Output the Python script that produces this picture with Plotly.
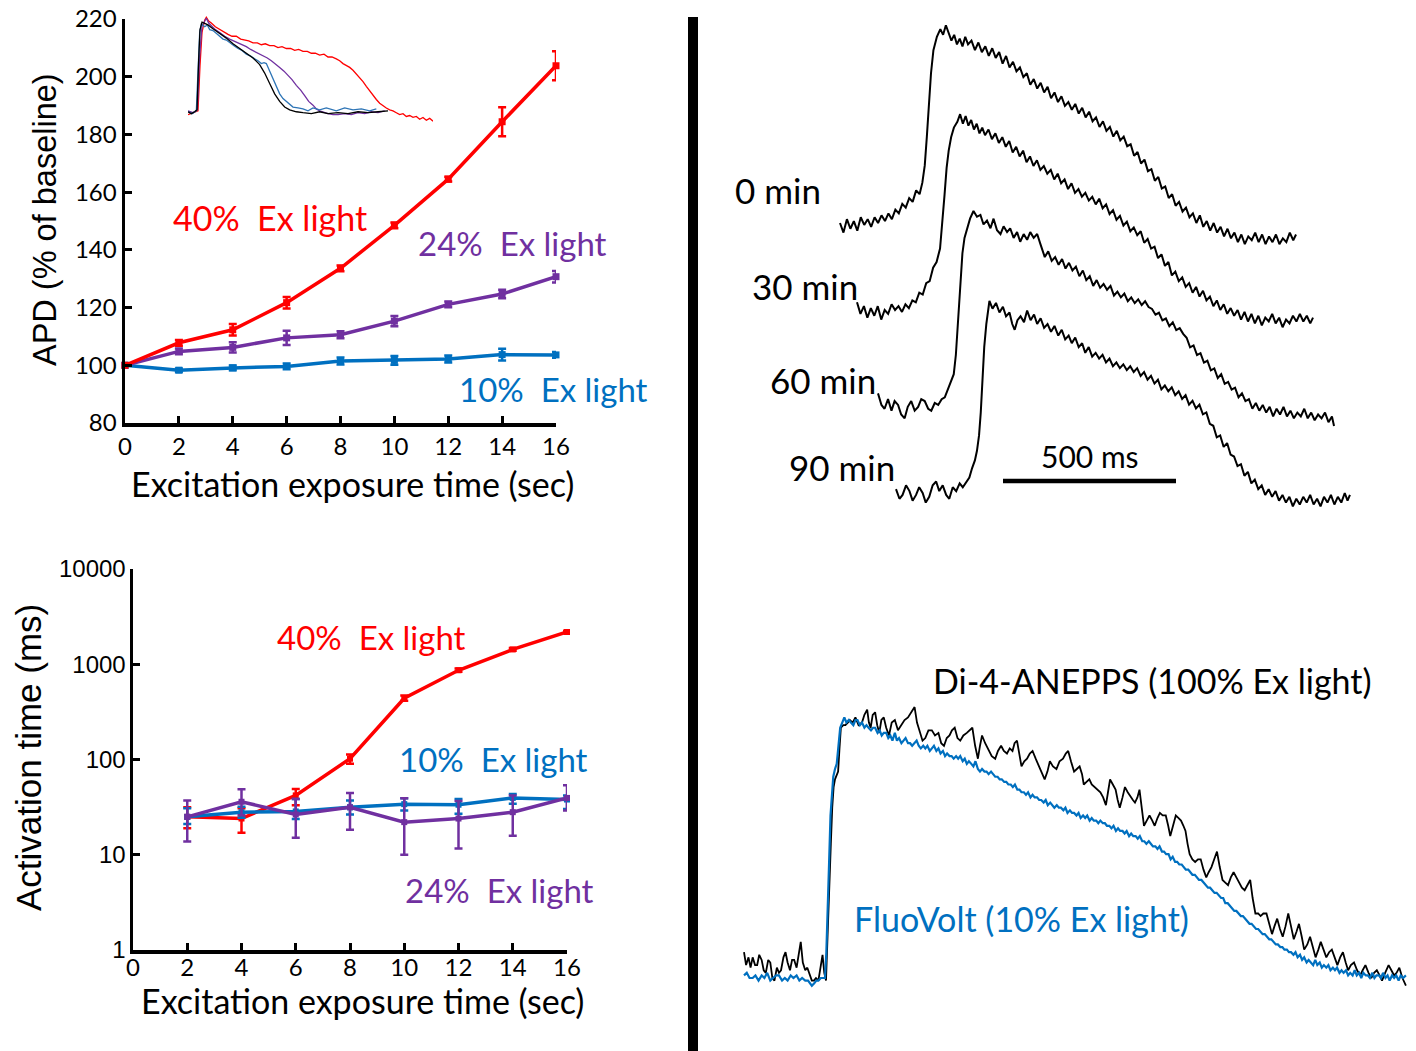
import plotly.graph_objects as go

W, H = 1416, 1051
def fx(px): return px / W
def fy(py): return 1 - py / H

FONT_C = "Lato"
FONT_A = "Liberation Sans"
RED = "#FF0000"
PURPLE = "#7030A0"
BLUE = "#0070C0"
BLACK = "#000000"

# ---------------- APD panel data ----------------
exposure_apd = [0, 2, 4, 6, 8, 10, 12, 14, 16]
apd_40 = [100, 107.8, 112.3, 121.7, 133.6, 148.5, 164.5, 184.4, 203.8]
apd_40_err = [0, 1.0, 2.0, 2.0, 1.0, 1.0, 0.8, 5.0, 5.0]
apd_24 = [100, 104.8, 106.2, 109.5, 110.6, 115.3, 121.1, 124.7, 130.7]
apd_24_err = [0, 1.0, 1.8, 2.5, 1.2, 1.8, 1.0, 1.5, 2.0]
apd_10 = [100, 98.3, 99.1, 99.6, 101.5, 101.7, 102.2, 103.7, 103.6]
apd_10_err = [0, 0.6, 0.8, 1.0, 1.2, 1.5, 1.2, 2.0, 1.0]
apd_yticks = [80, 100, 120, 140, 160, 180, 200, 220]
x_ticks = [0, 2, 4, 6, 8, 10, 12, 14, 16]

# ---------------- Activation time panel data ----------------
exposure_act = [2, 4, 6, 8, 10, 12, 14, 16]
act_40 = [25, 24, 42, 102, 440, 865, 1430, 2180]
act_40_hi = [31.5, 30.8, 49, 113, 470, 900, 1480, 2250]
act_40_lo = [19, 17, 33, 90, 415, 835, 1390, 2120]
act_10 = [25, 28, 28.5, 31.5, 34, 33.5, 39.5, 38]
act_10_hi = [30.8, 32, 38.4, 37.2, 39.3, 38.4, 43.5, 42]
act_10_lo = [21, 24.5, 23.7, 26.4, 29.1, 27, 34.4, 30.3]
act_24 = [25, 36, 26.5, 31.5, 22, 24, 28, 39.5]
act_24_hi = [37.2, 48.7, 38.4, 44.4, 39.3, 36.6, 41.9, 53.8]
act_24_lo = [13.8, 26, 15.1, 18.3, 10, 11.6, 15.8, 29.1]
act_yticks = [1, 10, 100, 1000, 10000]

# ---------------- Inset action potentials (time, normalized amplitude) ----------------
inset_red = [(0,-0.02),(15,0.00),(30,0.02),(36,0.50),(42,0.85),(50,0.98),(55,1.01),(62,0.97),(70,0.95),(82,0.91),(95,0.88),(108,0.85),(120,0.83),(132,0.81),(145,0.81),(158,0.78),(170,0.77),(182,0.76),(195,0.74),(208,0.74),(220,0.72),(232,0.73),(245,0.71),(258,0.71),(270,0.69),(282,0.70),(295,0.68),(308,0.68),(320,0.66),(332,0.67),(345,0.65),(358,0.65),(370,0.63),(382,0.63),(395,0.61),(408,0.62),(420,0.59),(432,0.59),(445,0.57),(455,0.55),(465,0.52),(475,0.50),(485,0.48),(495,0.45),(505,0.41),(515,0.38),(525,0.33),(535,0.28),(545,0.23),(555,0.19),(565,0.14),(575,0.10),(585,0.07),(595,0.05),(605,0.03),(615,0.02),(625,0.00),(635,-0.02),(645,-0.01),(655,-0.04),(665,-0.03),(675,-0.05),(685,-0.04),(695,-0.07),(705,-0.05),(715,-0.08),(725,-0.06),(735,-0.09)]
inset_purple = [(0,0.02),(15,0.00),(28,0.03),(35,0.60),(42,0.92),(55,1.00),(62,0.95),(70,0.92),(82,0.88),(95,0.85),(110,0.81),(125,0.78),(138,0.76),(150,0.74),(162,0.72),(175,0.70),(188,0.67),(200,0.65),(212,0.63),(225,0.60),(238,0.58),(250,0.55),(262,0.52),(275,0.48),(288,0.44),(300,0.40),(312,0.35),(325,0.29),(338,0.24),(350,0.18),(362,0.12),(375,0.08),(385,0.04),(395,0.02),(408,0.00),(420,-0.01),(435,-0.02),(450,-0.02),(470,-0.01),(490,-0.02),(510,0.00),(530,-0.01),(550,0.01),(570,0.00),(590,0.02)]
inset_blue = [(0,0.01),(12,-0.01),(25,0.02),(30,0.45),(35,0.85),(40,0.94),(50,0.91),(58,0.93),(65,0.88),(75,0.87),(85,0.84),(95,0.82),(105,0.78),(115,0.77),(125,0.74),(138,0.71),(150,0.68),(162,0.66),(175,0.62),(188,0.60),(200,0.57),(210,0.55),(220,0.52),(228,0.53),(235,0.52),(245,0.44),(255,0.35),(265,0.27),(275,0.20),(285,0.15),(295,0.12),(305,0.08),(315,0.06),(330,0.05),(345,0.04),(360,0.02),(375,0.05),(395,0.03),(415,0.05),(445,0.02),(470,0.05),(495,0.03),(520,0.04),(545,0.02),(565,0.04)]
inset_black = [(0,0.01),(10,-0.01),(20,0.01),(27,0.03),(32,0.56),(36,0.88),(42,0.96),(50,0.95),(60,0.93),(75,0.89),(95,0.84),(115,0.79),(135,0.73),(155,0.68),(175,0.63),(195,0.58),(215,0.51),(230,0.42),(245,0.31),(260,0.20),(275,0.12),(290,0.06),(305,0.03),(325,0.01),(345,0.00),(370,-0.01),(395,0.01),(420,-0.01),(450,0.00),(480,-0.01),(510,0.01),(540,0.00),(570,0.01),(600,0.02)]

# ---------------- Right-top: APs over time (ms from trace start, normalized amplitude) ----------------
ap_0min = [(0,0.00),(10,-0.05),(20,0.02),(30,-0.03),(40,0.01),(50,-0.04),(60,0.03),(70,-0.01),(80,0.02),(90,-0.02),(100,0.03),(110,0.00),(120,0.04),(130,0.01),(140,0.05),(150,0.02),(160,0.07),(170,0.05),(180,0.10),(190,0.08),(200,0.13),(210,0.11),(220,0.17),(230,0.15),(238,0.21),(245,0.30),(251,0.45),(257,0.62),(263,0.78),(270,0.90),(280,0.97),(290,1.01),(298,0.98),(306,1.03),(314,0.99),(322,0.95),(330,0.98),(338,0.93),(346,0.96),(354,0.92),(362,0.97),(370,0.93),(380,0.95),(390,0.90),(400,0.94),(410,0.89),(420,0.92),(430,0.87),(440,0.91),(450,0.86),(460,0.89),(470,0.83),(480,0.87),(490,0.81),(500,0.84),(510,0.79),(520,0.81),(530,0.76),(540,0.78),(550,0.72),(560,0.75),(570,0.70),(580,0.73),(590,0.68),(600,0.71),(610,0.65),(620,0.68),(630,0.63),(640,0.66),(650,0.61),(660,0.63),(670,0.59),(680,0.62),(690,0.57),(700,0.60),(710,0.55),(720,0.58),(730,0.53),(740,0.55),(750,0.50),(760,0.53),(770,0.48),(780,0.50),(790,0.45),(800,0.48),(810,0.43),(820,0.45),(830,0.40),(840,0.41),(850,0.35),(860,0.37),(870,0.31),(880,0.33),(890,0.27),(900,0.28),(910,0.22),(920,0.24),(930,0.18),(940,0.19),(950,0.13),(960,0.15),(970,0.09),(980,0.11),(990,0.06),(1000,0.08),(1010,0.03),(1020,0.05),(1030,0.00),(1040,0.04),(1050,-0.02),(1060,0.01),(1070,-0.04),(1080,0.00),(1090,-0.05),(1100,-0.02),(1110,-0.07),(1120,-0.03),(1130,-0.08),(1140,-0.05),(1150,-0.10),(1160,-0.06),(1170,-0.11),(1180,-0.07),(1190,-0.09),(1200,-0.05),(1210,-0.10),(1220,-0.06),(1230,-0.11),(1240,-0.07),(1250,-0.10),(1260,-0.06),(1270,-0.11),(1280,-0.08),(1290,-0.10),(1300,-0.05),(1310,-0.09),(1318,-0.06)]
ap_30min = [(0,0.04),(10,-0.02),(20,0.02),(30,-0.04),(40,0.01),(50,-0.03),(60,0.02),(70,-0.05),(80,0.00),(90,-0.02),(100,0.03),(110,0.00),(120,0.02),(130,-0.01),(140,0.03),(150,0.01),(160,0.05),(170,0.04),(180,0.09),(190,0.08),(200,0.14),(210,0.15),(220,0.22),(230,0.25),(240,0.32),(247,0.45),(253,0.60),(259,0.74),(265,0.83),(272,0.90),(280,0.95),(290,0.98),(298,1.02),(306,0.97),(314,1.01),(322,0.96),(330,0.99),(338,0.94),(346,0.97),(354,0.92),(362,0.95),(370,0.91),(380,0.94),(390,0.89),(400,0.92),(410,0.87),(420,0.90),(430,0.85),(440,0.88),(450,0.82),(460,0.85),(470,0.80),(480,0.83),(490,0.77),(500,0.80),(510,0.75),(520,0.78),(530,0.73),(540,0.75),(550,0.71),(560,0.73),(570,0.68),(580,0.71),(590,0.66),(600,0.68),(610,0.63),(620,0.66),(630,0.61),(640,0.63),(650,0.59),(660,0.61),(670,0.57),(680,0.59),(690,0.55),(700,0.58),(710,0.53),(720,0.55),(730,0.50),(740,0.52),(750,0.47),(760,0.49),(770,0.44),(780,0.46),(790,0.41),(800,0.43),(810,0.39),(820,0.41),(830,0.35),(840,0.37),(850,0.32),(860,0.33),(870,0.27),(880,0.29),(890,0.23),(900,0.25),(910,0.18),(920,0.20),(930,0.15),(940,0.17),(950,0.12),(960,0.14),(970,0.09),(980,0.12),(990,0.07),(1000,0.10),(1010,0.05),(1020,0.07),(1030,0.02),(1040,0.05),(1050,0.00),(1060,0.03),(1070,-0.02),(1080,0.01),(1090,-0.03),(1100,0.00),(1110,-0.05),(1120,-0.01),(1130,-0.06),(1140,-0.02),(1150,-0.07),(1160,-0.03),(1170,-0.08),(1180,-0.04),(1190,-0.06),(1200,-0.02),(1210,-0.07),(1220,-0.04),(1230,-0.09),(1240,-0.05),(1250,-0.07),(1260,-0.03),(1270,-0.06),(1280,-0.02),(1290,-0.06),(1300,-0.03),(1310,-0.07),(1318,-0.04)]
ap_60min = [(0,0.05),(10,-0.01),(19,-0.03),(29,0.02),(39,-0.04),(48,0.01),(58,-0.01),(67,-0.06),(77,-0.08),(86,-0.02),(96,0.01),(106,-0.04),(116,-0.02),(125,0.02),(135,0.01),(145,-0.03),(154,-0.04),(164,0.00),(174,-0.01),(184,0.02),(193,0.03),(200,0.06),(206,0.09),(213,0.12),(219,0.15),(225,0.25),(231,0.43),(238,0.60),(244,0.78),(250,0.86),(257,0.91),(266,0.96),(276,1.00),(286,0.97),(296,0.98),(305,0.93),(315,0.95),(325,0.91),(334,0.96),(344,0.90),(354,0.88),(363,0.92),(373,0.89),(382,0.91),(392,0.86),(402,0.89),(411,0.84),(421,0.88),(431,0.85),(440,0.89),(450,0.86),(460,0.88),(469,0.83),(476,0.79),(482,0.76),(492,0.79),(502,0.74),(512,0.76),(522,0.72),(532,0.75),(542,0.70),(552,0.73),(562,0.69),(572,0.71),(582,0.66),(592,0.69),(602,0.64),(612,0.66),(622,0.61),(632,0.64),(642,0.60),(652,0.62),(662,0.59),(672,0.61),(682,0.56),(692,0.58),(702,0.55),(712,0.57),(722,0.53),(732,0.55),(742,0.52),(752,0.54),(762,0.51),(772,0.53),(782,0.50),(792,0.49),(802,0.46),(812,0.47),(822,0.43),(832,0.44),(842,0.40),(852,0.42),(862,0.38),(872,0.39),(882,0.36),(892,0.34),(902,0.29),(912,0.30),(922,0.25),(932,0.26),(942,0.21),(952,0.22),(962,0.17),(972,0.18),(982,0.13),(992,0.15),(1002,0.10),(1012,0.11),(1022,0.07),(1032,0.08),(1042,0.03),(1052,0.05),(1062,0.01),(1072,0.02),(1082,-0.03),(1092,0.00),(1102,-0.04),(1112,-0.01),(1122,-0.05),(1132,-0.02),(1142,-0.07),(1152,-0.03),(1162,-0.06),(1172,-0.02),(1182,-0.07),(1192,-0.04),(1202,-0.08),(1212,-0.05),(1222,-0.07),(1232,-0.03),(1242,-0.08),(1252,-0.05),(1262,-0.09),(1272,-0.06),(1282,-0.08),(1292,-0.05),(1302,-0.10),(1312,-0.07),(1318,-0.12)]
ap_90min = [(0,0.02),(10,-0.03),(19,-0.01),(29,0.04),(39,0.01),(48,-0.04),(58,-0.01),(67,0.03),(77,0.00),(86,-0.05),(96,-0.02),(106,0.04),(116,0.06),(125,0.01),(135,0.04),(145,-0.01),(154,-0.03),(164,0.03),(174,0.01),(184,0.05),(193,0.03),(203,0.06),(212,0.08),(220,0.13),(228,0.17),(234,0.22),(240,0.30),(245,0.42),(250,0.60),(255,0.76),(261,0.88),(270,1.00),(279,0.96),(289,0.99),(299,0.94),(309,0.97),(318,0.92),(328,0.94),(336,0.88),(343,0.85),(351,0.90),(360,0.92),(370,0.89),(379,0.95),(389,0.90),(399,0.93),(408,0.88),(418,0.91),(428,0.86),(438,0.88),(448,0.84),(458,0.87),(469,0.82),(479,0.85),(489,0.80),(499,0.82),(508,0.78),(518,0.81),(528,0.76),(538,0.78),(547,0.73),(557,0.76),(567,0.71),(577,0.73),(587,0.70),(597,0.72),(607,0.68),(617,0.70),(627,0.66),(637,0.68),(647,0.65),(657,0.67),(667,0.64),(677,0.66),(687,0.63),(697,0.65),(707,0.61),(717,0.63),(727,0.59),(737,0.61),(747,0.57),(757,0.59),(767,0.54),(777,0.56),(787,0.53),(797,0.55),(807,0.51),(817,0.53),(827,0.49),(837,0.51),(847,0.46),(857,0.48),(867,0.44),(877,0.46),(887,0.41),(897,0.42),(907,0.36),(917,0.35),(927,0.29),(937,0.30),(947,0.24),(957,0.26),(967,0.20),(977,0.19),(987,0.14),(997,0.15),(1007,0.09),(1017,0.11),(1027,0.05),(1037,0.07),(1047,0.02),(1057,0.04),(1067,-0.01),(1077,0.02),(1087,-0.02),(1097,0.01),(1107,-0.04),(1117,-0.01),(1127,-0.05),(1137,-0.02),(1147,-0.07),(1157,-0.03),(1167,-0.06),(1177,-0.02),(1187,-0.05),(1197,-0.01),(1207,-0.06),(1217,-0.03),(1227,-0.07),(1237,-0.02),(1247,-0.05),(1257,-0.01),(1267,-0.06),(1277,-0.02),(1287,-0.05),(1297,0.00),(1305,-0.04),(1312,-0.01)]
ap_labels = ["0 min", "30 min", "60 min", "90 min"]
scale_bar_ms = 500

# ---------------- Right-bottom: dye comparison (ms, normalized amplitude) ----------------
di4_anepps = [(0,0.10),(6,0.05),(13,0.08),(19,0.04),(25,0.08),(32,0.05),(38,0.05),(44,0.09),(51,0.07),(57,0.03),(63,0.02),(70,0.07),(76,0.06),(82,0.00),(88,-0.01),(95,0.04),(101,0.02),(107,0.03),(114,0.08),(120,0.10),(126,0.06),(133,0.03),(139,0.07),(145,0.07),(152,0.04),(158,0.10),(164,0.14),(170,0.06),(177,0.03),(183,0.04),(189,0.02),(196,-0.01),(202,-0.01),(208,0.00),(215,-0.01),(221,0.04),(227,0.09),(232,0.02),(237,-0.01),(242,0.18),(246,0.37),(251,0.52),(255,0.66),(259,0.74),(263,0.77),(268,0.79),(272,0.80),(276,0.89),(280,0.97),(287,0.98),(293,0.98),(300,0.99),(306,1.00),(314,0.99),(322,1.01),(331,0.98),(341,0.99),(348,1.02),(356,1.04),(361,0.99),(366,0.97),(372,1.02),(379,1.03),(385,0.98),(391,0.95),(397,1.00),(404,1.01),(411,0.97),(419,0.94),(427,0.99),(436,1.00),(445,0.96),(455,0.98),(464,1.00),(474,1.01),(484,1.03),(493,1.05),(500,0.99),(508,0.95),(516,0.92),(524,0.93),(533,0.96),(543,0.96),(552,0.94),(562,0.95),(570,0.91),(578,0.90),(586,0.93),(594,0.94),(601,0.96),(609,0.97),(617,0.93),(625,0.92),(634,0.94),(644,0.95),(652,0.96),(660,0.97),(668,0.90),(676,0.85),(682,0.90),(688,0.94),(697,0.91),(707,0.88),(716,0.86),(726,0.85),(734,0.88),(743,0.90),(751,0.88),(760,0.87),(768,0.89),(776,0.88),(782,0.91),(789,0.92),(796,0.86),(802,0.82),(810,0.84),(818,0.85),(826,0.87),(834,0.88),(843,0.85),(853,0.82),(861,0.79),(869,0.77),(877,0.80),(884,0.84),(893,0.82),(903,0.81),(912,0.84),(922,0.85),(930,0.87),(937,0.88),(945,0.84),(954,0.80),(962,0.81),(970,0.82),(977,0.79),(982,0.75),(990,0.76),(998,0.77),(1005,0.75),(1013,0.74),(1021,0.73),(1030,0.72),(1038,0.70),(1046,0.67),(1052,0.72),(1058,0.77),(1066,0.75),(1074,0.73),(1080,0.69),(1086,0.66),(1094,0.70),(1101,0.74),(1109,0.72),(1118,0.70),(1124,0.69),(1130,0.68),(1137,0.70),(1143,0.73),(1150,0.66),(1156,0.59),(1164,0.61),(1172,0.63),(1180,0.61),(1187,0.59),(1195,0.62),(1202,0.64),(1210,0.63),(1219,0.63),(1226,0.59),(1232,0.55),(1240,0.59),(1248,0.63),(1256,0.62),(1263,0.61),(1270,0.59),(1276,0.57),(1282,0.52),(1288,0.48),(1296,0.46),(1304,0.45),(1312,0.46),(1320,0.46),(1328,0.42),(1336,0.39),(1343,0.41),(1351,0.43),(1359,0.46),(1367,0.49),(1375,0.43),(1383,0.38),(1391,0.37),(1399,0.36),(1407,0.39),(1415,0.41),(1423,0.39),(1431,0.37),(1439,0.35),(1447,0.34),(1455,0.36),(1463,0.38),(1470,0.31),(1478,0.25),(1486,0.25),(1493,0.24),(1501,0.25),(1510,0.25),(1518,0.21),(1526,0.17),(1533,0.20),(1541,0.23),(1549,0.19),(1557,0.16),(1565,0.20),(1573,0.25),(1581,0.20),(1589,0.15),(1597,0.18),(1604,0.21),(1612,0.16),(1619,0.11),(1628,0.13),(1636,0.16),(1644,0.12),(1652,0.08),(1660,0.11),(1667,0.14),(1675,0.11),(1683,0.08),(1691,0.10),(1699,0.11),(1707,0.08),(1715,0.05),(1723,0.08),(1731,0.10),(1739,0.06),(1746,0.03),(1754,0.05),(1763,0.06),(1772,0.03),(1781,0.01),(1788,0.03),(1796,0.05),(1805,0.02),(1813,0.00),(1821,0.02),(1829,0.03),(1837,0.01),(1844,-0.01),(1853,0.02),(1863,0.05),(1871,0.03),(1879,0.01),(1886,0.02),(1894,0.04),(1903,0.00),(1913,-0.03)]
fluovolt = [(0,0.01),(8,0.02),(16,0.00),(25,0.00),(33,0.01),(42,-0.01),(51,0.01),(59,0.00),(67,0.02),(76,-0.01),(84,0.00),(93,0.01),(101,0.01),(110,-0.01),(118,0.00),(126,-0.01),(135,0.01),(143,0.00),(152,0.01),(160,-0.01),(168,0.00),(177,-0.01),(185,-0.01),(191,-0.02),(196,-0.03),(203,-0.02),(209,-0.01),(215,-0.01),(222,0.00),(228,0.00),(234,0.00),(238,0.10),(242,0.24),(246,0.45),(250,0.63),(254,0.72),(258,0.78),(263,0.81),(268,0.83),(273,0.90),(278,0.97),(284,0.99),(290,1.01),(296,0.99),(303,1.00),(309,0.99),(316,0.98),(322,1.00),(328,1.00),(335,0.98),(341,0.99),(348,0.97),(354,0.98),(360,0.97),(367,0.96),(373,0.97),(379,0.97),(386,0.95),(392,0.96),(398,0.94),(404,0.95),(411,0.95),(417,0.93),(423,0.94),(429,0.92),(436,0.95),(442,0.92),(448,0.93),(455,0.91),(461,0.92),(467,0.93),(474,0.91),(480,0.91),(486,0.90),(493,0.91),(499,0.92),(505,0.90),(511,0.89),(518,0.90),(524,0.89),(530,0.90),(537,0.88),(543,0.89),(549,0.90),(556,0.88),(562,0.89),(568,0.87),(575,0.88),(581,0.86),(587,0.87),(594,0.86),(600,0.86),(606,0.85),(613,0.86),(619,0.85),(625,0.86),(632,0.84),(638,0.85),(644,0.83),(650,0.84),(657,0.83),(663,0.82),(669,0.84),(676,0.81),(682,0.80),(688,0.81),(695,0.80),(701,0.80),(707,0.79),(714,0.80),(720,0.79),(726,0.78),(733,0.78),(739,0.77),(745,0.77),(752,0.76),(758,0.76),(764,0.75),(771,0.75),(777,0.74),(783,0.75),(790,0.73),(796,0.73),(802,0.72),(809,0.72),(815,0.71),(821,0.72),(828,0.70),(834,0.71),(840,0.70),(847,0.70),(853,0.69),(859,0.69),(866,0.68),(872,0.69),(878,0.67),(885,0.68),(891,0.67),(897,0.66),(904,0.67),(910,0.66),(916,0.66),(923,0.65),(929,0.66),(935,0.64),(942,0.65),(948,0.64),(954,0.64),(961,0.63),(967,0.64),(973,0.62),(980,0.63),(986,0.62),(992,0.63),(999,0.61),(1005,0.62),(1011,0.61),(1018,0.61),(1024,0.60),(1030,0.61),(1037,0.60),(1043,0.60),(1049,0.59),(1056,0.59),(1062,0.58),(1068,0.59),(1075,0.57),(1081,0.58),(1087,0.57),(1094,0.57),(1100,0.56),(1106,0.57),(1113,0.55),(1119,0.56),(1125,0.55),(1132,0.55),(1138,0.54),(1144,0.55),(1151,0.53),(1157,0.53),(1163,0.52),(1170,0.53),(1176,0.52),(1182,0.51),(1189,0.51),(1195,0.50),(1201,0.51),(1208,0.49),(1214,0.49),(1220,0.48),(1227,0.48),(1233,0.46),(1239,0.47),(1246,0.45),(1252,0.45),(1258,0.44),(1265,0.44),(1271,0.43),(1277,0.42),(1284,0.42),(1290,0.41),(1296,0.40),(1303,0.40),(1309,0.39),(1315,0.38),(1322,0.38),(1328,0.37),(1334,0.36),(1341,0.35),(1347,0.35),(1353,0.34),(1360,0.33),(1366,0.33),(1372,0.32),(1379,0.31),(1385,0.31),(1391,0.29),(1398,0.29),(1404,0.28),(1410,0.27),(1417,0.26),(1423,0.26),(1429,0.25),(1436,0.24),(1442,0.24),(1448,0.23),(1455,0.22),(1461,0.21),(1467,0.21),(1474,0.20),(1480,0.19),(1486,0.19),(1493,0.18),(1499,0.17),(1505,0.17),(1512,0.16),(1518,0.15),(1524,0.15),(1531,0.14),(1537,0.13),(1543,0.13),(1550,0.12),(1556,0.12),(1562,0.11),(1569,0.11),(1575,0.10),(1581,0.10),(1588,0.09),(1594,0.10),(1600,0.08),(1607,0.09),(1613,0.07),(1619,0.08),(1626,0.06),(1632,0.07),(1638,0.06),(1645,0.05),(1651,0.07),(1657,0.05),(1664,0.06),(1670,0.04),(1676,0.05),(1683,0.04),(1689,0.05),(1695,0.03),(1702,0.04),(1708,0.03),(1714,0.04),(1721,0.02),(1727,0.03),(1733,0.02),(1740,0.03),(1746,0.01),(1752,0.02),(1759,0.01),(1765,0.03),(1771,0.01),(1778,0.02),(1784,0.00),(1790,0.02),(1797,0.01),(1803,0.01),(1809,0.00),(1816,0.02),(1822,0.00),(1828,0.01),(1835,0.01),(1841,0.00),(1847,0.02),(1854,0.00),(1860,0.01),(1866,-0.01),(1873,0.01),(1879,0.00),(1885,0.01),(1892,-0.01),(1898,0.01),(1905,0.00),(1913,0.01)]

# ---------------- Layout geometry (pixels of the 1416x1051 canvas) ----------------
APD_X = (125, 556); APD_Y = (19, 423)
ACT_X = (133, 567); ACT_Y = (569, 950)
PXMS = 0.346
RT_X0, RT_Y0, RT_UNIT = 840, 223, 192
RT_DOM_X = (700, 1416); RT_DOM_Y = (20, 530)
trace_start_px = [840, 857, 878, 896]
trace_base_py = [223, 310, 403, 493]
RB_X0, RB_Y0, RB_UNIT = 744, 978, 258
RB_DOM_X = (730, 1416); RB_DOM_Y = (650, 1051)
IN_DOM_X = (188, 433); IN_Y0, IN_UNIT = 112.7, 94.4
IN_DOM_Y = (15, 125)

fig = go.Figure()

def unz(pairs):
    return [p[0] for p in pairs], [p[1] for p in pairs]

# --- APD panel ---
for y, e, c in [(apd_10, apd_10_err, BLUE), (apd_24, apd_24_err, PURPLE), (apd_40, apd_40_err, RED)]:
    fig.add_trace(go.Scatter(x=exposure_apd, y=y, mode="lines+markers", cliponaxis=False,
                             line=dict(color=c, width=3.5),
                             marker=dict(symbol="square", size=7, color=c),
                             error_y=dict(type="data", array=e, visible=True, color=c, thickness=2.5, width=4),
                             xaxis="x", yaxis="y", showlegend=False))

# --- Activation panel ---
for y, hi, lo, c in [(act_40, act_40_hi, act_40_lo, RED), (act_10, act_10_hi, act_10_lo, BLUE),
                     (act_24, act_24_hi, act_24_lo, PURPLE)]:
    fig.add_trace(go.Scatter(x=exposure_act, y=y, mode="lines+markers", cliponaxis=False,
                             line=dict(color=c, width=3.5),
                             marker=dict(symbol="square", size=6, color=c),
                             error_y=dict(type="data", symmetric=False,
                                          array=[h - v for h, v in zip(hi, y)],
                                          arrayminus=[v - l for l, v in zip(lo, y)],
                                          visible=True, color=c, thickness=2.5, width=4),
                             xaxis="x2", yaxis="y2", showlegend=False))

# --- Right-top APs ---
for pairs, sx, by in zip([ap_0min, ap_30min, ap_60min, ap_90min], trace_start_px, trace_base_py):
    t, v = unz(pairs)
    dx = (sx - RT_X0) / PXMS
    dy = (RT_Y0 - by) / RT_UNIT
    fig.add_trace(go.Scatter(x=[ti + dx for ti in t], y=[vi + dy for vi in v], mode="lines",
                             line=dict(color=BLACK, width=2), xaxis="x3", yaxis="y3", showlegend=False))

# --- Right-bottom dyes ---
t, v = unz(di4_anepps)
fig.add_trace(go.Scatter(x=t, y=v, mode="lines", line=dict(color=BLACK, width=1.8),
                         xaxis="x4", yaxis="y4", showlegend=False))
t, v = unz(fluovolt)
fig.add_trace(go.Scatter(x=t, y=v, mode="lines", line=dict(color=BLUE, width=2.2),
                         xaxis="x4", yaxis="y4", showlegend=False))

# --- Inset ---
for pairs, c in [(inset_red, RED), (inset_purple, PURPLE), (inset_blue, "#2E75B6"), (inset_black, BLACK)]:
    t, v = unz(pairs)
    fig.add_trace(go.Scatter(x=t, y=v, mode="lines", line=dict(color=c, width=1.3),
                             xaxis="x5", yaxis="y5", showlegend=False))

axis_common = dict(showline=True, linecolor=BLACK, linewidth=3.5, ticks="inside", ticklen=7,
                   tickwidth=3, tickcolor=BLACK, showgrid=False, zeroline=False, mirror=False,
                   automargin=False)

rt_xr = [(RT_DOM_X[0] - RT_X0) / PXMS, (RT_DOM_X[1] - RT_X0) / PXMS]
rt_yr = [(RT_Y0 - RT_DOM_Y[1]) / RT_UNIT, (RT_Y0 - RT_DOM_Y[0]) / RT_UNIT]
rb_xr = [(RB_DOM_X[0] - RB_X0) / PXMS, (RB_DOM_X[1] - RB_X0) / PXMS]
rb_yr = [(RB_Y0 - RB_DOM_Y[1]) / RB_UNIT, (RB_Y0 - RB_DOM_Y[0]) / RB_UNIT]
in_yr = [(IN_Y0 - IN_DOM_Y[1]) / IN_UNIT, (IN_Y0 - IN_DOM_Y[0]) / IN_UNIT]

hidden = dict(visible=False, showgrid=False, zeroline=False, fixedrange=True, automargin=False)

fig.update_layout(
    width=W, height=H, autosize=False, hovermode=False,
    margin=dict(l=0, r=0, t=0, b=0, pad=0),
    paper_bgcolor="white", plot_bgcolor="rgba(0,0,0,0)",
    xaxis=dict(domain=[fx(APD_X[0]), fx(APD_X[1])], range=[0, 16], anchor="y",
               tickvals=x_ticks, ticktext=[str(v) for v in x_ticks],
               tickfont=dict(family=FONT_C, size=24, color=BLACK), **axis_common),
    yaxis=dict(domain=[fy(APD_Y[1]), fy(APD_Y[0])], range=[80, 220], anchor="x",
               tickvals=apd_yticks, ticktext=[str(v) for v in apd_yticks],
               tickfont=dict(family=FONT_C, size=24, color=BLACK), **axis_common),
    xaxis2=dict(domain=[fx(ACT_X[0]), fx(ACT_X[1])], range=[0, 16], anchor="y2",
                tickvals=x_ticks, ticktext=[str(v) for v in x_ticks], ticklabelstandoff=-6,
                tickfont=dict(family=FONT_C, size=24, color=BLACK), **axis_common),
    yaxis2=dict(domain=[fy(ACT_Y[1]), fy(ACT_Y[0])], type="log", range=[0, 4], anchor="x2",
                tickvals=act_yticks, ticktext=[str(v) for v in act_yticks], ticklabelstandoff=-1,
                tickfont=dict(family=FONT_A, size=24, color=BLACK), **axis_common),
    xaxis3=dict(domain=[fx(RT_DOM_X[0]), fx(RT_DOM_X[1])], range=rt_xr, anchor="y3", **hidden),
    yaxis3=dict(domain=[fy(RT_DOM_Y[1]), fy(RT_DOM_Y[0])], range=rt_yr, anchor="x3", **hidden),
    xaxis4=dict(domain=[fx(RB_DOM_X[0]), fx(RB_DOM_X[1])], range=rb_xr, anchor="y4", **hidden),
    yaxis4=dict(domain=[fy(RB_DOM_Y[1]), fy(RB_DOM_Y[0])], range=rb_yr, anchor="x4", **hidden),
    xaxis5=dict(domain=[fx(IN_DOM_X[0]), fx(IN_DOM_X[1])], range=[0, 735], anchor="y5", **hidden),
    yaxis5=dict(domain=[fy(IN_DOM_Y[1]), fy(IN_DOM_Y[0])], range=in_yr, anchor="x5", **hidden),
)

shapes = [
    dict(type="rect", xref="paper", yref="paper", x0=fx(688), x1=fx(698), y0=fy(1051), y1=fy(17),
         fillcolor=BLACK, line=dict(width=0)),
    dict(type="line", xref="x3", yref="paper", x0=(1003 - RT_X0) / PXMS,
         x1=(1003 - RT_X0) / PXMS + scale_bar_ms, y0=fy(481), y1=fy(481),
         line=dict(color=BLACK, width=4.5)),
]
fig.update_layout(shapes=shapes)

def ann(text, px, py, size, color=BLACK, family=FONT_C, angle=0):
    return dict(text=text, x=fx(px), y=fy(py), xref="paper", yref="paper", showarrow=False,
                xanchor="center", yanchor="middle", textangle=angle,
                font=dict(family=family, size=size, color=color))

annotations = [
    ann("40%  Ex light", 270, 217, 34, RED),
    ann("24%  Ex light", 512, 243, 33, PURPLE),
    ann("10%  Ex light", 553, 389, 33, BLUE),
    ann("Excitation exposure time (sec)", 352, 483, 34),
    ann("APD (% of baseline)", 45, 220, 32.5, family=FONT_A, angle=-90),
    ann("40%  Ex light", 371, 637, 33, RED),
    ann("10%  Ex light", 494, 759, 33, BLUE),
    ann("24%  Ex light", 499, 890, 33, PURPLE),
    ann("Excitation exposure time (sec)", 362, 1000, 34),
    ann("Activation time (ms)", 28, 758, 35, family=FONT_A, angle=-90),
    ann(ap_labels[0], 778, 190, 35),
    ann(ap_labels[1], 805, 286, 35),
    ann(ap_labels[2], 823, 380, 35),
    ann(ap_labels[3], 842, 467, 35),
    ann("500 ms", 1090, 456, 30),
    ann("Di-4-ANEPPS (100% Ex light)", 1152, 680, 34),
    ann("FluoVolt (10% Ex light)", 1021, 918, 34, BLUE),
]
fig.update_layout(annotations=annotations)

fig.write_html("out.html", config={"displayModeBar": False, "staticPlot": True},
               post_script="document.body.style.margin='0px';")
